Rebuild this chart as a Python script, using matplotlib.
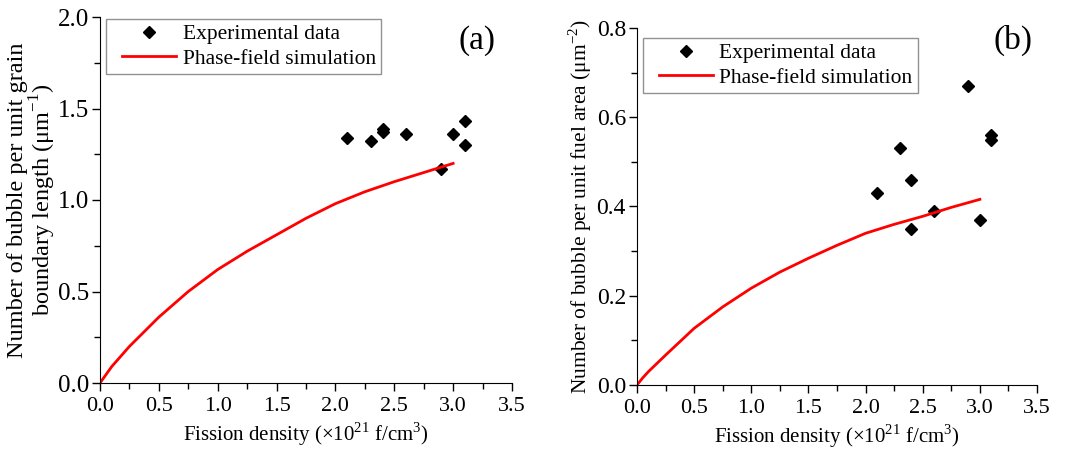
import numpy as np
import matplotlib
matplotlib.use('Agg')
import matplotlib.pyplot as plt
from matplotlib.ticker import MultipleLocator
from matplotlib.lines import Line2D
from matplotlib.legend_handler import HandlerLine2D

plt.rcParams['font.family'] = ['Liberation Serif', 'DejaVu Serif']
plt.rcParams['mathtext.fontset'] = 'custom'
plt.rcParams['mathtext.rm'] = 'Liberation Serif'

# (a) bubble per unit grain boundary length
exp_a_x = [2.1, 2.3, 2.4, 2.4, 2.6, 2.9, 3.0, 3.1, 3.1]
exp_a_y = [1.34, 1.32, 1.37, 1.39, 1.36, 1.17, 1.36, 1.43, 1.30]
sim_a_x = [0.0, 0.05, 0.1, 0.25, 0.5, 0.75, 1.0, 1.25, 1.5, 1.75, 2.0, 2.25, 2.5, 2.75, 3.0]
sim_a_y = [0.0, 0.045, 0.09, 0.20, 0.36, 0.50, 0.62, 0.72, 0.81, 0.90, 0.98, 1.045, 1.10, 1.15, 1.20]

# (b) bubble per unit fuel area
exp_b_x = [2.1, 2.3, 2.4, 2.4, 2.6, 2.9, 3.0, 3.1, 3.1]
exp_b_y = [0.43, 0.53, 0.46, 0.35, 0.39, 0.67, 0.37, 0.56, 0.55]
sim_b_x = [0.0, 0.05, 0.1, 0.25, 0.5, 0.75, 1.0, 1.25, 1.5, 1.75, 2.0, 2.25, 2.5, 2.75, 3.0]
sim_b_y = [0.0, 0.016, 0.03, 0.067, 0.127, 0.175, 0.217, 0.253, 0.284, 0.313, 0.34, 0.36, 0.378, 0.398, 0.416]

xlabel = r'Fission density ($\times$10$^{21}$ f/cm$^{3}$)'
FS = 15


def style_axes(ax, ymax, ymajor, yminor, ytick_fs):
    ax.set_xlim(0, 3.5)
    ax.set_ylim(0, ymax)
    ax.xaxis.set_major_locator(MultipleLocator(0.5))
    ax.xaxis.set_minor_locator(MultipleLocator(0.25))
    ax.yaxis.set_major_locator(MultipleLocator(ymajor))
    ax.yaxis.set_minor_locator(MultipleLocator(yminor))
    ax.spines['top'].set_visible(False)
    ax.spines['right'].set_visible(False)
    ax.tick_params(which='major', direction='out', length=6, width=1)
    ax.tick_params(which='minor', direction='out', length=4, width=1)
    ax.tick_params(axis='x', which='major', labelsize=16, pad=4)
    ax.tick_params(axis='y', which='major', labelsize=ytick_fs, pad=2)
    ax.set_xlabel(xlabel, fontsize=FS, labelpad=3)


fig = plt.figure(figsize=(10.7, 4.54), dpi=100)
ax1 = fig.add_axes([100 / 1070, 1 - 383 / 454, 412 / 1070, 366 / 454])
ax2 = fig.add_axes([637 / 1070, 1 - 385 / 454, 400 / 1070, 357 / 454])

panels = [(ax1, exp_a_x, exp_a_y, sim_a_x, sim_a_y, 2 / 366),
          (ax2, exp_b_x, exp_b_y, sim_b_x, sim_b_y, 10 / 357)]
for ax, ex, ey, sx, sy, top_off in panels:
    ax.plot(ex, ey, 'D', color='black', markersize=6.5, linestyle='none',
            label='Experimental data')
    ax.plot(sx, sy, '-', color='red', linewidth=2, label='Phase-field simulation')
    leg = ax.legend(loc='upper left', fontsize=15.5, frameon=True, fancybox=False,
                    borderpad=0.25, handlelength=3.0, handletextpad=0.3,
                    labelspacing=0.2, borderaxespad=0,
                    bbox_to_anchor=(6 / 400, 1 - top_off),
                    handler_map={Line2D: HandlerLine2D(xpad=0.5)})
    leg.get_frame().set_edgecolor('#777777')
    leg.get_frame().set_linewidth(1)

style_axes(ax1, 2.0, 0.5, 0.25, 18)
style_axes(ax2, 0.8, 0.2, 0.1, 17)

ax1.set_ylabel('Number of bubble per unit grain\nboundary length (μm$^{-1}$)',
               fontsize=17.5, linespacing=1.0)
ax1.yaxis.set_label_coords(-0.102, 0.5)
ax2.set_ylabel('Number of bubble per unit fuel area (μm$^{-2}$)', fontsize=15.5, labelpad=2)

ax1.text(0.915, 0.935, '(a)', transform=ax1.transAxes, fontsize=24, ha='center', va='center')
ax2.text(0.94, 0.965, '(b)', transform=ax2.transAxes, fontsize=24, ha='center', va='center')

fig.savefig('out.png', dpi=100)
